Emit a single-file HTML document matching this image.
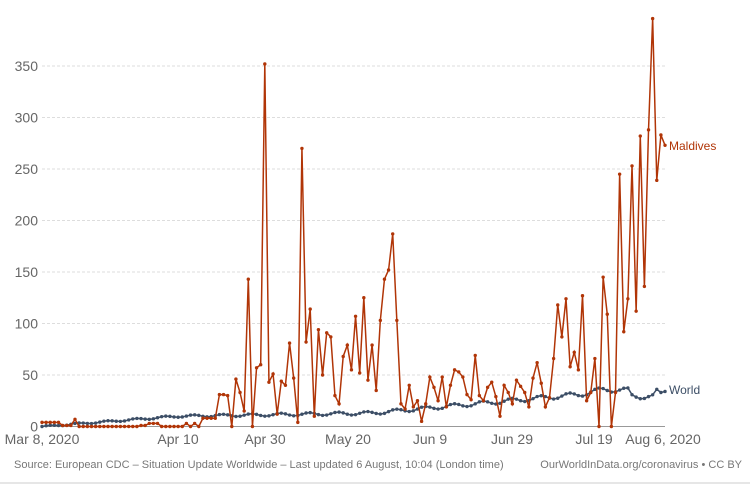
<!DOCTYPE html>
<html><head><meta charset="utf-8"><style>
body{margin:0;background:#fff;width:750px;height:484px;overflow:hidden;font-family:"Liberation Sans",sans-serif}
</style></head><body>
<svg id="s" width="750" height="484" xmlns="http://www.w3.org/2000/svg" font-family="Liberation Sans, sans-serif">
<g id="grid"></g>
<g font-size="14" fill="#666" id="yl"></g>
<g font-size="14" fill="#666" text-anchor="middle">
<text x="42" y="444">Mar 8, 2020</text>
<text x="178" y="444">Apr 10</text>
<text x="265" y="444">Apr 30</text>
<text x="348" y="444">May 20</text>
<text x="430" y="444">Jun 9</text>
<text x="512" y="444">Jun 29</text>
<text x="594" y="444">Jul 19</text>
<text x="663" y="444">Aug 6, 2020</text>
</g>
<line x1="42" y1="426.5" x2="665" y2="426.5" stroke="#999" stroke-width="1"/>
<g id="w"></g><g id="m"></g>
<text x="669" y="150" font-size="12" fill="#b13507">Maldives</text>
<text x="669" y="394" font-size="12" fill="#3c4e66">World</text>
<text x="14" y="468" font-size="11" fill="#777">Source: European CDC – Situation Update Worldwide – Last updated 6 August, 10:04 (London time)</text>
<text x="742" y="468" font-size="11" fill="#777" text-anchor="end">OurWorldInData.org/coronavirus • CC BY</text>
<line x1="0" y1="483" x2="750" y2="483" stroke="#ccc"/>
</svg>
<script>
var NS="http://www.w3.org/2000/svg";
function el(t,a,p){var e=document.createElementNS(NS,t);for(var k in a)e.setAttribute(k,a[k]);document.getElementById(p).appendChild(e);return e;}
var y0=426.5,k=1.03,x0=42,dx=4.126;
for(var v=50;v<=350;v+=50){var y=y0-v*k;el("line",{x1:42,x2:665,y1:y,y2:y,stroke:"#ddd","stroke-dasharray":"3,2"},"grid");var t=el("text",{x:38,y:y+5,"text-anchor":"end"},"yl");t.textContent=v;}
var t0=el("text",{x:38,y:y0+5,"text-anchor":"end"},"yl");t0.textContent="0";
var tail=[31,31,30,0,46,33,15,143,0,57,60,352,43,51,12,44,40,81,47,4,270,82,114,10,94,50,91,87,30,22,68,79,55,107,52,125,45,79,35,103,143,152,187,103,22,17,40,19,25,5,22,48,38,25,48,19,40,55,53,48,31,26,69,30,25,38,43,29,10,40,33,22,45,39,33,19,47,62,42,19,28,66,118,87,124,58,72,55,127,25,33,66,0,145,109,0,33,245,92,124,253,112,282,136,288,396,239,283,273];
var head=[];for(var i=0;i<43;i++){var v=0;if(i<5)v=4;else if(i<8)v=1;if(i==8)v=7;if(i>=26&&i<=28)v=3;if(i==24||i==25)v=1;if(i>=39)v=8;if(i==37||i==35)v=3;head.push(v);}
var M=head.concat(tail);
var W=[];for(var i=0;i<=151;i++){var b;if(i<33)b=i/33*10;else if(i<80)b=10+(i-33)/47*3;else if(i<130)b=13+(i-80)/50*18;else if(i<137)b=31+(i-130)*0.8;else b=36-(i-137)*0.2;var osc=2*Math.sin(i*2*Math.PI/7)*(0.3+i/151);if(i>=143&&i<=148)b-=5;W.push(Math.max(0,b+osc));}
W[150]=33;W[151]=34;
function draw(arr,c,g){var pts=arr.map(function(v,i){return [x0+i*dx,y0-v*k];});el("polyline",{points:pts.map(function(p){return p.join(",")}).join(" "),fill:"none",stroke:c,"stroke-width":1.5},g);pts.forEach(function(p){el("circle",{cx:p[0],cy:p[1],r:1.7,fill:c},g);});}
draw(W,"#3c4e66","w");draw(M,"#b13507","m");
</script>
</body></html>
